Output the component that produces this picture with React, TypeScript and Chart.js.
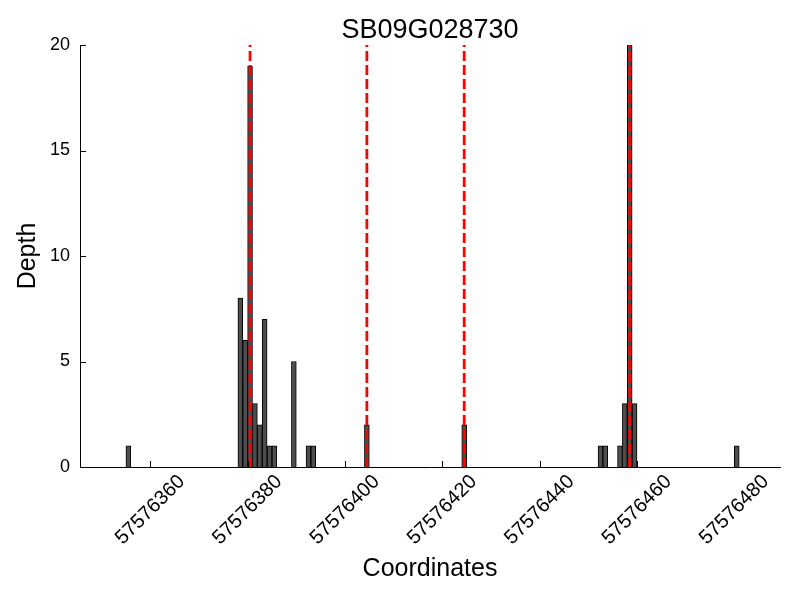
import React, { useEffect, useRef } from "react";
import { Chart, registerables } from "chart.js";

Chart.register(...registerables);

const TITLE = "SB09G028730";
const X_LABEL = "Coordinates";
const Y_LABEL = "Depth";

// bar centres (genomic coordinate) and read depth
const coordinates = [
  57576355.5, 57576378.5, 57576379.5, 57576380.5, 57576381.5, 57576382.5,
  57576383.5, 57576384.5, 57576385.5, 57576389.5, 57576392.5, 57576393.5,
  57576404.5, 57576424.5, 57576452.5, 57576453.5, 57576456.5, 57576457.5,
  57576458.5, 57576459.5, 57576480.5,
];
const depths = [1, 8, 6, 19, 3, 2, 7, 1, 1, 5, 1, 1, 2, 2, 1, 1, 1, 3, 20, 3, 1];

// red dashed marker positions
const markerPositions = [57576380.5, 57576404.5, 57576424.5, 57576458.5];

const xTicks = [57576360, 57576380, 57576400, 57576420, 57576440, 57576460, 57576480];
const yTicks = [0, 5, 10, 15, 20];

const X_MIN = 57576345.56;
const X_MAX = 57576489.38;
const Y_MIN = 0;
const Y_MAX = 20;

const FONT = '"Liberation Sans", Arial, sans-serif';

const inwardTicksPlugin = {
  id: "inwardTicks",
  afterDraw(chart: any) {
    const ctx = chart.ctx;
    const xs = chart.scales.x;
    const ys = chart.scales.y;
    const { left, bottom } = chart.chartArea;
    ctx.save();
    ctx.strokeStyle = "#000";
    ctx.lineWidth = 1;
    ctx.beginPath();
    xs.ticks.forEach((t: any) => {
      const px = Math.round(xs.getPixelForValue(t.value)) + 0.5;
      ctx.moveTo(px, bottom);
      ctx.lineTo(px, bottom - 6);
    });
    ys.ticks.forEach((t: any) => {
      const py = Math.round(ys.getPixelForValue(t.value)) + 0.5;
      ctx.moveTo(left, py);
      ctx.lineTo(left + 6, py);
    });
    ctx.stroke();
    ctx.fillStyle = "#000";
    ctx.font = `20px ${FONT}`;
    ctx.textAlign = "center";
    ctx.textBaseline = "middle";
    xs.ticks.forEach((t: any) => {
      const px = xs.getPixelForValue(t.value);
      ctx.save();
      ctx.translate(px, bottom + 43);
      ctx.rotate(-Math.PI / 4);
      ctx.fillText(String(t.value), 0, 0);
      ctx.restore();
    });
    ctx.restore();
  },
};

export default function App() {
  const canvasRef = useRef<HTMLCanvasElement | null>(null);

  useEffect(() => {
    if (!canvasRef.current) return;
    Chart.defaults.color = "#000";
    Chart.defaults.font.family = FONT;

    const barData = coordinates.map((x, i) => ({ x, y: depths[i] }));
    const lineSets = markerPositions.map((x) => ({
      type: "line" as const,
      data: [
        { x, y: Y_MIN },
        { x, y: Y_MAX },
      ],
      borderColor: "#ff0000",
      borderWidth: 2.8,
      borderDash: [10, 4],
      pointRadius: 0,
      fill: false,
      order: 1,
    }));

    const chart = new Chart(canvasRef.current, {
      type: "bar",
      data: {
        datasets: [
          {
            type: "bar",
            data: barData as any,
            backgroundColor: "#4d4d4d",
            borderColor: "#000",
            borderWidth: 1,
            barPercentage: 1,
            categoryPercentage: 1,
            order: 2,
          } as any,
          ...(lineSets as any[]),
        ],
      },
      options: {
        animation: false,
        responsive: true,
        maintainAspectRatio: false,
        layout: { padding: { left: 0, right: 20, top: 0, bottom: 0 } },
        plugins: {
          legend: { display: false },
          tooltip: { enabled: false },
          title: {
            display: true,
            fullSize: false,
            text: TITLE,
            color: "#000",
            font: { size: 27, weight: "normal", family: FONT, lineHeight: 1 },
            padding: { top: 17, bottom: 1 },
          },
        },
        scales: {
          x: {
            type: "linear",
            min: X_MIN,
            max: X_MAX,
            offset: false,
            afterBuildTicks: (scale: any) => {
              scale.ticks = xTicks.map((v) => ({ value: v }));
            },
            afterFit: (scale: any) => {
              scale.height = 133;
            },
            ticks: { display: false },
            grid: { display: false, drawTicks: false },
            border: { display: true, color: "#000", width: 1 },
            title: {
              display: true,
              text: X_LABEL,
              color: "#000",
              font: { size: 25, family: FONT },
              padding: { top: 0, bottom: 16 },
            },
          },
          y: {
            type: "linear",
            min: Y_MIN,
            max: Y_MAX,
            afterBuildTicks: (scale: any) => {
              scale.ticks = yTicks.map((v) => ({ value: v }));
            },
            afterFit: (scale: any) => {
              scale.width = 80;
            },
            ticks: {
              color: "#000",
              font: { size: 18, family: FONT },
              padding: 10,
            },
            grid: { display: false, drawTicks: false },
            border: { display: true, color: "#000", width: 1 },
            title: {
              display: true,
              text: Y_LABEL,
              color: "#000",
              font: { size: 25, family: FONT },
              padding: { top: 13, bottom: 0 },
            },
          },
        },
      } as any,
      plugins: [inwardTicksPlugin],
    });

    return () => chart.destroy();
  }, []);

  return (
    <div style={{ position: "fixed", left: 0, top: 0, width: 800, height: 600, background: "#fff" }}>
      <canvas ref={canvasRef} />
    </div>
  );
}
